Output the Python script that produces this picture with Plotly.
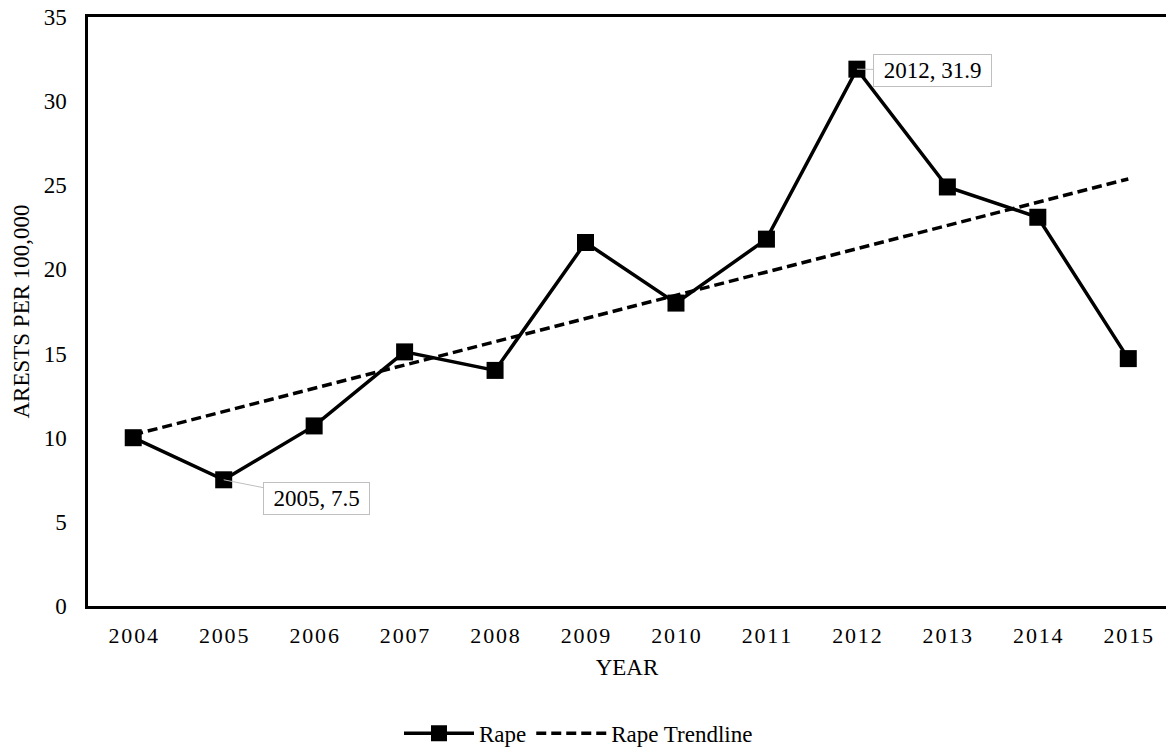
import numpy as np
import plotly.graph_objects as go

years = ["2004", "2005", "2006", "2007", "2008", "2009", "2010", "2011", "2012", "2013", "2014", "2015"]
rape = [10.0, 7.5, 10.7, 15.1, 14.0, 21.6, 18.0, 21.8, 31.9, 24.9, 23.1, 14.7]
y_ticks = [0, 5, 10, 15, 20, 25, 30, 35]
labelled_years = ["2005", "2012"]

# linear trendline fitted to the series
idx = np.arange(len(rape))
slope, intercept = np.polyfit(idx, rape, 1)
trend = list(slope * idx + intercept)

FONT = "Liberation Serif, Times New Roman, serif"
tick_text = ["\u200a".join(list(y)) for y in years]

fig = go.Figure()
fig.add_trace(go.Scatter(
    x=years, y=rape, name="Rape", mode="lines+markers",
    line=dict(color="black", width=3.5),
    marker=dict(symbol="square", size=17, color="black"),
))
fig.add_trace(go.Scatter(
    x=years, y=trend, name="Rape Trendline", mode="lines",
    line=dict(color="black", width=3.5, dash="10px,5px"),
))

ann_style = dict(
    showarrow=True, arrowhead=0, arrowwidth=1, arrowcolor="#BFBFBF",
    bordercolor="#BFBFBF", borderwidth=1, borderpad=3, bgcolor="white",
    font=dict(family=FONT, size=23, color="black"), standoff=0,
    xref="x", yref="y",
)
offsets = {"2005": (93, 18.5, 99), "2012": (76, 1, 111)}
for yr in labelled_years:
    i = years.index(yr)
    ax, ay, w = offsets[yr]
    fig.add_annotation(x=i, y=rape[i], text=f"{yr}, {rape[i]}",
                       ax=ax, ay=ay, width=w, **ann_style)

fig.update_layout(
    width=1166, height=750,
    margin=dict(l=88, r=0, t=17, b=144, autoexpand=False),
    paper_bgcolor="white", plot_bgcolor="white",
    font=dict(family=FONT, size=23, color="black"),
    showlegend=True,
    legend=dict(orientation="h", x=0.455, xanchor="center", y=-0.216, yanchor="middle",
                font=dict(family=FONT, size=23, color="black"), itemwidth=70,
                bgcolor="rgba(0,0,0,0)"),
    xaxis=dict(
        type="category", range=[-0.5, 11.417],
        tickmode="array", tickvals=years, ticktext=tick_text,
        showgrid=False, zeroline=False,
        showline=True, linecolor="black", linewidth=2.5, mirror=True,
        ticks="", ticklabelstandoff=8,
        tickfont=dict(family=FONT, size=22, color="black"),
        title=dict(text="YEAR", font=dict(family=FONT, size=23, color="black"), standoff=12),
    ),
    yaxis=dict(
        range=[0, 35], tickmode="array", tickvals=y_ticks,
        showgrid=False, zeroline=False,
        showline=True, linecolor="black", linewidth=2.5,
        ticks="", ticklabelstandoff=14,
        tickfont=dict(family=FONT, size=23, color="black"),
        title=dict(text="ARESTS PER 100,000", font=dict(family=FONT, size=23, color="black"), standoff=8),
    ),
)

fig.write_html("out.html", config={"displayModeBar": False},
               post_script="document.body.style.margin='0';")
